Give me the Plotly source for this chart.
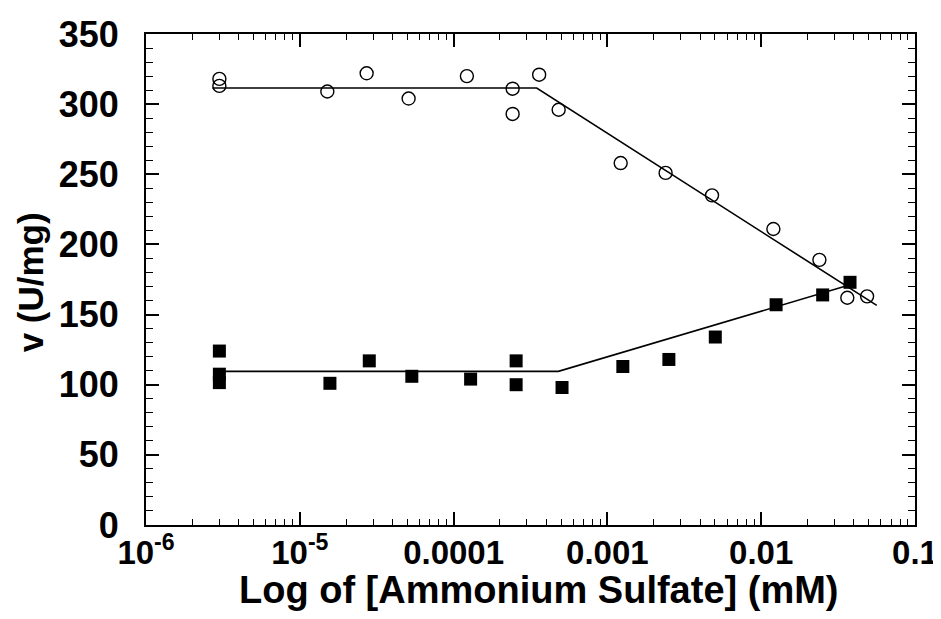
import plotly.graph_objects as go

# Open circles (upper series)
circ_x = [3e-6, 3e-6, 1.51e-5, 2.72e-5, 5.1e-5, 1.22e-4, 2.42e-4, 2.42e-4, 3.6e-4,
          4.82e-4, 1.22e-3, 2.39e-3, 4.79e-3, 0.012, 0.0239, 0.0363, 0.0488]
circ_y = [318, 313, 309, 322, 304, 320, 311, 293, 321,
          296, 258, 251, 235, 211, 189, 162, 163]
circ_fit_x = [2.7e-6, 3.47e-4, 0.0564]
circ_fit_y = [311.5, 311.5, 156.5]

# Filled squares (lower series)
sq_x = [3e-6, 3e-6, 3e-6, 1.57e-5, 2.83e-5, 5.35e-5, 1.29e-4, 2.55e-4, 2.55e-4,
        5.07e-4, 1.26e-3, 2.51e-3, 5.03e-3, 0.0125, 0.0251, 0.0378]
sq_y = [124, 107.5, 101.5, 101, 117, 106, 104, 117, 100,
        98, 113, 118, 134, 157, 164, 173]
sq_fit_x = [2.9e-6, 4.8e-4, 0.036]
sq_fit_y = [109.5, 109.5, 170.5]

x_tickvals = [1e-6, 1e-5, 1e-4, 1e-3, 1e-2, 1e-1]
x_ticktext = ["10<sup>-6</sup>", "10<sup>-5</sup>", "0.0001", "0.001", "0.01", "0.1"]
y_tickvals = [0, 50, 100, 150, 200, 250, 300, 350]

x_title = "Log of [Ammonium Sulfate] (mM)"
y_title = "v (U/mg)"

minor_x = [m * 10 ** e for e in range(-6, -1) for m in range(2, 10)]

FONT = "Liberation Sans, Arial, Helvetica, sans-serif"

fig = go.Figure()
fig.add_trace(go.Scatter(x=circ_fit_x, y=circ_fit_y, mode="lines",
                         line=dict(color="black", width=1.6), showlegend=False))
fig.add_trace(go.Scatter(x=sq_fit_x, y=sq_fit_y, mode="lines",
                         line=dict(color="black", width=1.6), showlegend=False))
fig.add_trace(go.Scatter(x=circ_x, y=circ_y, mode="markers",
                         marker=dict(symbol="circle-open", size=13, color="black",
                                     line=dict(width=1.4, color="black")),
                         showlegend=False))
fig.add_trace(go.Scatter(x=sq_x, y=sq_y, mode="markers",
                         marker=dict(symbol="square", size=13, color="black"),
                         showlegend=False))

fig.update_layout(
    width=933, height=611,
    margin=dict(l=138, r=26, t=26, b=94),
    paper_bgcolor="white", plot_bgcolor="white",
    font=dict(family=FONT, color="black"),
    xaxis=dict(
        type="log", range=[-6, -1], automargin=False,
        tickmode="array", tickvals=x_tickvals, ticktext=x_ticktext,
        ticks="inside", ticklen=13, tickwidth=1.5, tickcolor="black",
        showline=True, linecolor="black", linewidth=2, mirror="allticks",
        showgrid=False, zeroline=False,
        tickfont=dict(family=FONT, size=33, color="black", weight="bold"),
        ticklabelstandoff=-3,
        minor=dict(tickmode="array", tickvals=minor_x, ticks="inside",
                   ticklen=6, tickwidth=1.2, tickcolor="black", showgrid=False),
    ),
    yaxis=dict(
        range=[0, 350], automargin=False,
        tickmode="array", tickvals=y_tickvals,
        ticks="inside", ticklen=13, tickwidth=1.5, tickcolor="black",
        showline=True, linecolor="black", linewidth=2, mirror="allticks",
        showgrid=False, zeroline=False,
        tickfont=dict(family=FONT, size=36, color="black", weight="bold"),
        ticklabelstandoff=18,
        minor=dict(dtick=10, ticks="inside", ticklen=7, tickwidth=1.2,
                   tickcolor="black", showgrid=False),
    ),
    annotations=[
        dict(text=x_title, xref="paper", yref="paper", x=0.51, y=-0.132,
             xanchor="center", yanchor="middle", showarrow=False,
             font=dict(family=FONT, size=38, color="black", weight="bold")),
        dict(text=y_title, xref="paper", yref="paper", x=-0.149, y=0.495,
             xanchor="center", yanchor="middle", showarrow=False, textangle=-90,
             font=dict(family=FONT, size=35, color="black", weight="bold")),
    ],
)

fig.write_html("out.html")
